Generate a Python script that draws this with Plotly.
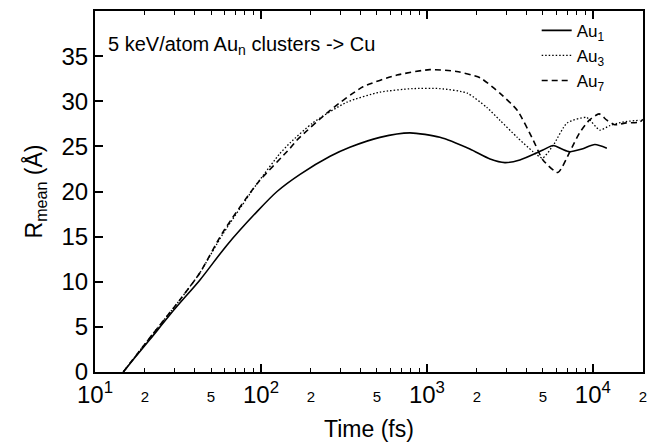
import plotly.graph_objects as go

# ---- data ----
t_au1 = [14.8, 17.4, 21.4, 30.3, 42.9, 62, 95, 125, 172, 261, 343, 521, 790,
         1197, 1815, 2400, 2950, 3630, 5000, 5760, 6500, 7260, 8590, 10280, 12140]
r_au1 = [0.0, 1.6, 3.6, 7.0, 10.2, 14.0, 17.8, 20.0, 21.9, 23.9, 24.9, 26.0, 26.5,
         26.0, 24.7, 23.6, 23.2, 23.5, 24.6, 25.1, 24.7, 24.4, 24.7, 25.2, 24.8]

t_au3 = [14.8, 21.4, 32.5, 42.9, 59, 95, 130, 150, 205, 330, 520, 820, 1200, 1750, 2300,
         2750, 3500, 4370, 4970, 5760, 7000, 9160, 11000, 12650, 15200, 19200]
r_au3 = [0.0, 3.8, 8.0, 11.0, 15.3, 20.9, 24.2, 25.4, 27.6, 29.9, 31.0, 31.4, 31.4, 30.9, 29.3,
         27.9, 26.0, 24.4, 23.7, 25.1, 27.6, 28.2, 26.8, 27.3, 27.7, 27.9]

t_au7 = [14.8, 21.4, 32.5, 42.9, 59, 95, 150, 165, 261, 412, 660, 1040, 1510, 2090, 2750,
         3500, 4370, 5000, 6150, 7260, 8310, 9520, 10900, 12140, 13540, 15870, 19200, 20000]
r_au7 = [0.0, 3.8, 8.0, 11.0, 15.5, 20.9, 24.8, 25.7, 29.0, 31.6, 32.9, 33.5, 33.3, 32.6, 30.9,
         29.0, 25.7, 23.5, 22.1, 24.4, 26.5, 27.9, 28.6, 27.9, 27.4, 27.6, 27.7, 28.0]

decades = [10, 100, 1000, 10000]
decade_text = ["10<sup>1</sup>", "10<sup>2</sup>", "10<sup>3</sup>", "10<sup>4</sup>"]
small_vals = [20, 50, 200, 500, 2000, 5000, 20000]
small_text = ["2", "5", "2", "5", "2", "5", "2"]
y_ticks = [0, 5, 10, 15, 20, 25, 30, 35]

FONT = "Liberation Sans, Arial, sans-serif"

fig = go.Figure()
fig.add_trace(go.Scatter(x=t_au1, y=r_au1, mode="lines", name="Au<sub>1</sub>",
                         line=dict(color="black", width=1.6, shape="spline", smoothing=0.7)))
fig.add_trace(go.Scatter(x=t_au3, y=r_au3, mode="lines", name="Au<sub>3</sub>",
                         line=dict(color="black", width=1.3, dash="1.5px,2px", shape="spline", smoothing=0.6)))
fig.add_trace(go.Scatter(x=t_au7, y=r_au7, mode="lines", name="Au<sub>7</sub>",
                         line=dict(color="black", width=1.6, dash="6px,4px", shape="spline", smoothing=0.6)))

# small "2" / "5" labels on an overlaid axis
fig.add_trace(go.Scatter(x=[10, 20000], y=[None, None], xaxis="x2", showlegend=False,
                         hoverinfo="skip"))

xr = [1, 4.302]
minor_vals = [m * d for d in decades for m in range(2, 10)]
minor_vals = [v for v in minor_vals if v <= 20000]

fig.update_layout(
    width=652, height=446,
    margin=dict(l=95, r=5, t=11, b=74),
    paper_bgcolor="white", plot_bgcolor="white",
    font=dict(family=FONT, color="black"),
    showlegend=True,
    legend=dict(x=0.806, y=0.995, xanchor="left", yanchor="top",
                bgcolor="rgba(0,0,0,0)", font=dict(size=17), tracegroupgap=0),
    xaxis=dict(type="log", range=xr, tickmode="array", tickvals=decades, ticktext=decade_text,
               ticks="inside", ticklen=8, tickwidth=1.5, tickcolor="black",
               showline=True, linecolor="black", linewidth=2, mirror="allticks",
               showgrid=False, zeroline=False, tickfont=dict(size=24),
               minor=dict(tickvals=minor_vals, ticks="inside", ticklen=4, tickwidth=1.2,
                          tickcolor="black", showgrid=False),
               title=dict(text="Time (fs)", font=dict(size=23), standoff=14)),
    xaxis2=dict(type="log", range=xr, overlaying="x", anchor="y", side="bottom",
                tickmode="array", tickvals=small_vals, ticktext=small_text,
                ticks="", showline=False, showgrid=False, zeroline=False,
                tickfont=dict(size=15), ticklabelstandoff=14),
    yaxis=dict(range=[0, 40], tickmode="array", tickvals=y_ticks,
               ticks="inside", ticklen=8, tickwidth=1.5, tickcolor="black",
               showline=True, linecolor="black", linewidth=2, mirror=True,
               showgrid=False, zeroline=False, tickfont=dict(size=24),
               title=dict(text="R<sub>mean</sub> (Å)", font=dict(size=23), standoff=12)),
)

fig.add_annotation(text="5 keV/atom Au<sub>n</sub> clusters -> Cu", xref="paper", yref="paper",
                   x=0.02, y=0.905, xanchor="left", yanchor="middle", showarrow=False,
                   font=dict(size=20, family=FONT))

fig.write_html("out.html", config={"displayModeBar": False},
               post_script="document.body.style.margin='0';")
